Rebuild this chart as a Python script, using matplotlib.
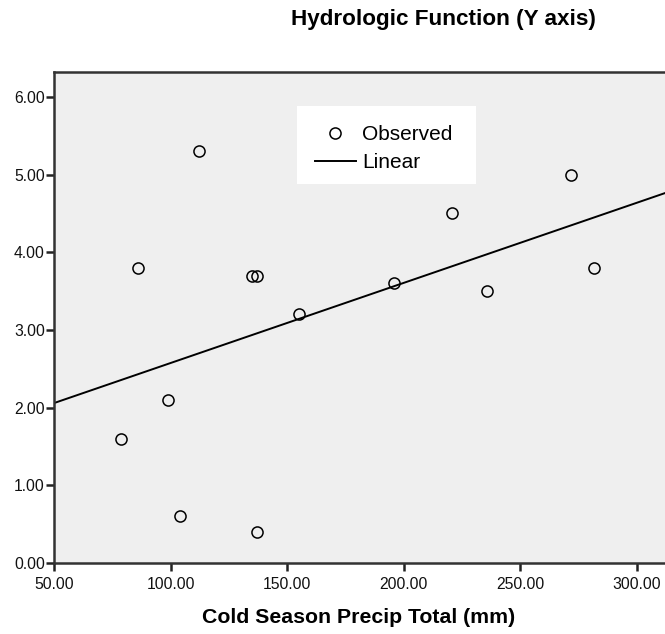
import matplotlib
matplotlib.use('Agg')
import matplotlib.pyplot as plt
from matplotlib.patches import Rectangle
import numpy as np

plt.rcParams['font.family'] = ['Liberation Sans', 'DejaVu Sans']

# Cold season precipitation (mm) vs hydrologic function score
precip = [112.2, 86.0, 135.0, 137.0, 155.2, 195.9, 220.8, 235.8, 271.9, 281.8, 98.9, 78.8, 104.0, 137.0]
hydro = [5.3, 3.8, 3.7, 3.7, 3.2, 3.6, 4.5, 3.5, 5.0, 3.8, 2.1, 1.6, 0.6, 0.4]
xticks = [50, 100, 150, 200, 250, 300]
yticks = [0, 1, 2, 3, 4, 5, 6]

W, H = 665, 634
fig = plt.figure(figsize=(W / 100, H / 100), dpi=100)
ax = fig.add_axes([54 / W, 1 - 563 / H, 1 - 54 / W, (563 - 72) / H])
ax.set_facecolor('#efefef')

ax.set_xlim(50, 312.2)
ax.set_ylim(0, 6.32)

# linear fit
slope, icpt = np.polyfit(precip, hydro, 1)
xs = np.array(ax.get_xlim())
line, = ax.plot(xs, icpt + slope * xs, color='black', lw=1.4, label='Linear')
pts, = ax.plot(precip, hydro, 'o', mfc='none', mec='black', ms=8, mew=1.1,
               label='Observed', zorder=3)

ax.set_xticks(xticks)
ax.set_xticklabels([f'{v:.2f}' for v in xticks])
ax.set_yticks(yticks)
ax.set_yticklabels([f'{v:.2f}' for v in yticks])
ax.tick_params(direction='out', length=6, width=1.8, color='#222222',
               labelsize=11.3, labelcolor='#111111')
ax.tick_params(axis='x', pad=4)
ax.tick_params(axis='y', pad=0.5)

for side in ['left', 'bottom', 'top']:
    ax.spines[side].set_linewidth(1.8)
    ax.spines[side].set_color('#333333')
ax.spines['right'].set_visible(False)

# white legend panel
ax.add_patch(Rectangle((297 / W, 1 - 184 / H), 179 / W, 78 / H, transform=fig.transFigure,
                       facecolor='white', edgecolor='none', zorder=4))
leg = ax.legend(handles=[pts, line], loc='upper left',
                bbox_to_anchor=(302 / W, 1 - 113 / H), bbox_transform=fig.transFigure,
                frameon=False, fontsize=15, handlelength=2.0,
                borderpad=0.6, labelspacing=0.4, handletextpad=0.3, borderaxespad=0)
leg.set_zorder(5)

fig.text(443 / W, 1 - 25 / H, 'Hydrologic Function (Y axis)', ha='center', va='baseline',
         fontsize=16.2, fontweight='bold')
fig.text(359 / W, 1 - 623 / H, 'Cold Season Precip Total (mm)', ha='center', va='baseline',
         fontsize=15.3, fontweight='bold')

fig.savefig('out.png', dpi=100)
